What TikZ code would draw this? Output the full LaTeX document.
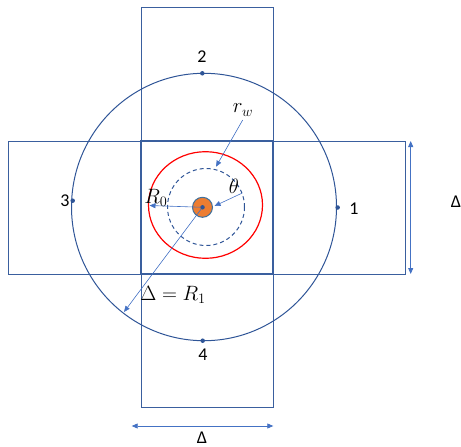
\documentclass[tikz,border=0pt]{standalone}
\usepackage{fontspec}
\setmainfont{Carlito}
\usetikzlibrary{arrows.meta}
\definecolor{frame}{HTML}{3A5F9E}
\definecolor{ring}{HTML}{2F5597}
\definecolor{arr}{HTML}{4472C4}
\definecolor{wellor}{HTML}{ED7D31}
\definecolor{wellbd}{HTML}{41719C}
\tikzset{
  rectline/.style={draw=frame, line width=0.9pt},
  sqline/.style={draw=frame, line width=1.4pt},
  dimarrow/.style={draw=arr, line width=0.8pt, {Triangle[length=6pt,width=5pt]}-{Triangle[length=6pt,width=5pt]}},
  ptrarrow/.style={draw=arr, line width=0.6pt, -{Triangle[length=6pt,width=5pt]}},
  dotpt/.style={circle, fill=ring, inner sep=0pt, minimum size=4.5pt},
  numlbl/.style={font=\fontsize{18}{20}\selectfont, inner sep=0pt},
  mathlbl/.style={font=\fontsize{20}{22}\selectfont, inner sep=0pt},
}
\begin{document}
\begin{tikzpicture}[x=1pt, y=-1pt]
\useasboundingbox (0,0) rectangle (461,447);
% rectangles
\draw[rectline] (141,7) rectangle (273,407);
\draw[rectline] (8,141) rectangle (405,274);
\draw[sqline] (141,141) rectangle (273,274);
% big circle
\draw[draw=ring, line width=1pt] (204,207) ellipse [x radius=132.5, y radius=133.7];
% red circle
\draw[draw=red, line width=1.2pt] (205.5,205) ellipse [x radius=57, y radius=53.3];
% dashed circle
\draw[draw=ring, line width=1pt, dash pattern=on 4pt off 3pt] (206,207) circle [radius=38.5];
% well
\node[circle, fill=wellor, draw=wellbd, line width=1pt, minimum size=20pt, inner sep=0pt] (well) at (202.5,207.3) {};
\node[dotpt] (c) at (202.5,207.3) {};
% points
\node[dotpt] (p2) at (202.3,73.3) {};
\node[dotpt] (p4) at (202.7,340.7) {};
\node[dotpt] (p3) at (72.7,200.7) {};
\node[dotpt] (p1) at (337.7,207.5) {};
\node[numlbl] (l2) at (202,57) {2};
\node[numlbl] (l4) at (203,355) {4};
\node[numlbl] (l3) at (65,201) {3};
\node[numlbl] (l1) at (354,209) {1};
% pointer arrows
\coordinate (rwS) at (242.7,120);
\coordinate (rwE) at (216,166.7);
\draw[ptrarrow] (rwS) -- (rwE);
\node[mathlbl] (rw) at (243,110) {$r_w$};
\coordinate (thS) at (241.7,193.3);
\coordinate (thE) at (214.5,206);
\draw[ptrarrow] (thS) -- (thE);
\node[mathlbl] (th) at (234,186) {$\theta$};
\coordinate (r0E) at (149.5,205.5);
\draw[ptrarrow] (c) -- (r0E);
\node[mathlbl] (r0) at (156,198) {$R_0$};
\coordinate (r1E) at (124,312);
\draw[ptrarrow] (c) -- (r1E);
\node[mathlbl] (r1) at (173,295) {$\Delta=R_1$};
% dimension arrows
\coordinate (vT) at (410.7,141);
\coordinate (vB) at (410.7,274);
\draw[dimarrow] (vT) -- (vB);
\node[numlbl] (dv) at (456,202) {Δ};
\coordinate (hL) at (131.7,426);
\coordinate (hR) at (273.3,426);
\draw[dimarrow] (hL) -- (hR);
\node[numlbl] (dh) at (202,438) {Δ};
\end{tikzpicture}
\end{document}
